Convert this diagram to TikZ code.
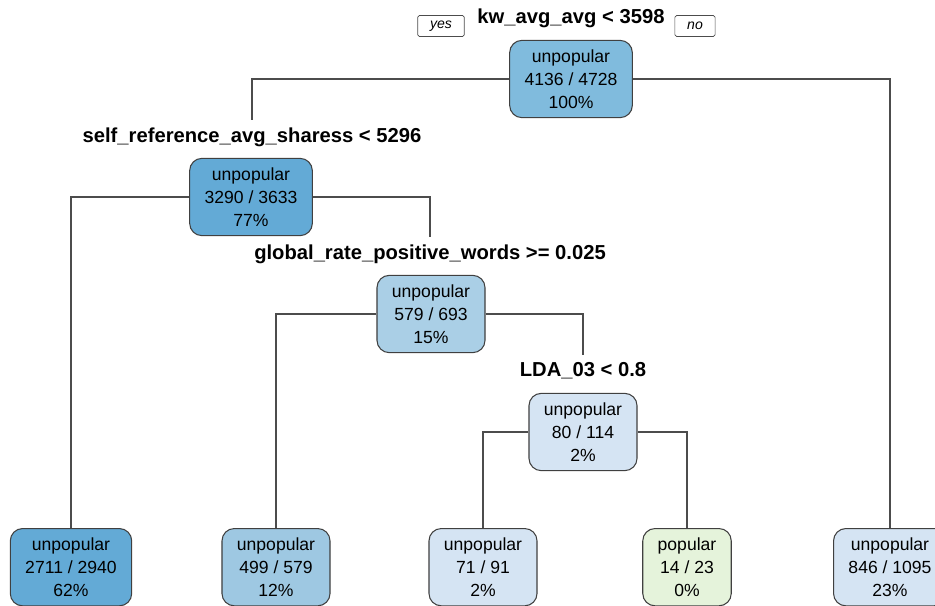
\documentclass[tikz,border=0pt]{standalone}
\usepackage{fontspec}
\setmainfont{Liberation Sans}
\definecolor{blueA}{RGB}{128,187,221}
\definecolor{blueB}{RGB}{99,170,214}
\definecolor{blueC}{RGB}{170,207,230}
\definecolor{blueD}{RGB}{158,200,226}
\definecolor{blueE}{RGB}{213,228,243}
\definecolor{greenA}{RGB}{229,243,219}

\begin{document}
\begin{tikzpicture}[x=0.02cm,y=-0.02cm,
    box/.style={draw=black!75, line width=0.6pt, rounded corners=7pt, align=center,
      inner xsep=8.5pt, minimum height=44pt, font=\fontsize{10}{13}\selectfont},
    split/.style={font=\bfseries\fontsize{11.5}{13}\selectfont, inner ysep=4pt},
    answer/.style={draw=black!70, line width=0.4pt, rounded corners=1pt,
      font=\itshape\fontsize{8}{9}\selectfont, inner xsep=7pt, inner ysep=0pt, minimum height=12pt},
    edge/.style={draw=black!70, line width=0.6pt}]
  \useasboundingbox (0,0) rectangle (935,605);

  \node[split] (s1) at (571,18) {kw\_avg\_avg < 3598};
  \node[answer] (yes) at (441,26) {yes};
  \node[answer] (no) at (695,26) {no};
  \node[box, fill=blueA] (n1) at (571,79) {unpopular\\4136 / 4728\\100\%};

  \node[split] (s2) at (252,137) {self\_reference\_avg\_sharess < 5296};
  \node[box, fill=blueB] (n2) at (251,197) {unpopular\\3290 / 3633\\77\%};

  \node[split] (s3) at (430,254) {global\_rate\_positive\_words >= 0.025};
  \node[box, fill=blueC] (n3) at (431,314) {unpopular\\579 / 693\\15\%};

  \node[split] (s4) at (583,371) {LDA\_03 < 0.8};
  \node[box, fill=blueE] (n4) at (583,432) {unpopular\\80 / 114\\2\%};

  \node[box, fill=blueB, anchor=north] (l1) at (71,528) {unpopular\\2711 / 2940\\62\%};
  \node[box, fill=blueD, anchor=north] (l2) at (276,528) {unpopular\\499 / 579\\12\%};
  \node[box, fill=blueE, anchor=north] (l3) at (483,528) {unpopular\\71 / 91\\2\%};
  \node[box, fill=greenA, anchor=north] (l4) at (687,528) {popular\\14 / 23\\0\%};
  \node[box, fill=blueE, anchor=north] (l5) at (890,528) {unpopular\\846 / 1095\\23\%};

  \draw[edge] (n1.west) -| (s2.north);
  \draw[edge] (n1.east) -| (l5.north);
  \draw[edge] (n2.west) -| (l1.north);
  \draw[edge] (n2.east) -| (s3.north);
  \draw[edge] (n3.west) -| (l2.north);
  \draw[edge] (n3.east) -| (s4.north);
  \draw[edge] (n4.west) -| (l3.north);
  \draw[edge] (n4.east) -| (l4.north);
\end{tikzpicture}
\end{document}
